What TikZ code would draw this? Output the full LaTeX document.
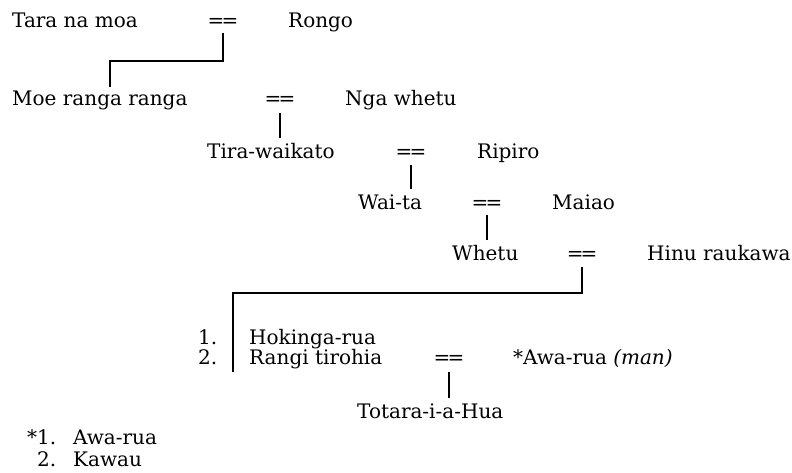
\documentclass[tikz,border=0pt]{standalone}
\usepackage{fontspec}
\setmainfont{DejaVu Serif}
\newcommand{\mareq}{=\kern-3pt=}
\begin{document}
\begin{tikzpicture}[x=1pt,y=-1pt,
  txt/.style={inner sep=0pt,anchor=base west,font=\fontsize{20}{21}\selectfont},
  eq/.style={inner sep=0pt,anchor=base,font=\fontsize{20}{21}\selectfont},
  link/.style={line width=1.8pt}]
\useasboundingbox (0,0) rectangle (792,473);
% row 1
\node[txt] (tara) at (12,28) {Tara na moa};
\node[eq] (e1) at (223,28) {\mareq};
\node[txt] (rongo) at (288,28) {Rongo};
% row 2
\node[txt] (moe) at (12,106) {Moe ranga ranga};
\node[eq] (e2) at (280,106) {\mareq};
\node[txt] (nga) at (345,106) {Nga whetu};
% row 3
\node[txt] (tira) at (207,159) {Tira-waikato};
\node[eq] (e3) at (411,159) {\mareq};
\node[txt] (ripiro) at (477,159) {Ripiro};
% row 4
\node[txt] (waita) at (358,209) {Wai-ta};
\node[eq] (e4) at (487,209) {\mareq};
\node[txt] (maiao) at (552,209) {Maiao};
% row 5
\node[txt] (whetu) at (452,260) {Whetu};
\node[eq] (e5) at (582,260) {\mareq};
\node[txt] (hinu) at (647,260) {Hinu raukawa};
% children
\node[txt] (n1) at (198,344) {1.};
\node[txt] (hok) at (249,344) {Hokinga-rua};
\node[txt] (n2) at (198,364) {2.};
\node[txt] (rangi) at (249,364) {Rangi tirohia};
\node[eq] (e6) at (449,364) {\mareq};
\node[txt] (awa) at (513,364) {*Awa-rua \textit{(man)}};
\node[txt] (totara) at (357,418) {Totara-i-a-Hua};
% footnote
\node[txt] (f1) at (27,444) {*1.};
\node[txt] (fa) at (73,444) {Awa-rua};
\node[txt] (f2) at (37,466) {2.};
\node[txt] (fk) at (73,466) {Kawau};
% connectors
\coordinate (k1) at (110,61);
\draw[link] ([yshift=-5pt]e1.south) |- (k1) -- ([yshift=4pt]moe.north -| k1);
\draw[link] ([yshift=-7pt]e2.south) -- ([yshift=6pt]tira.north -| e2.south);
\draw[link] ([yshift=-6pt]e3.south) -- ([yshift=5pt]waita.north -| e3.south);
\draw[link] ([yshift=-6pt]e4.south) -- ([yshift=5pt]whetu.north -| e4.south);
\coordinate (k2) at (233,293);
\coordinate (k3) at (233,372);
\draw[link] ([yshift=-7pt]e5.south) |- (k2) -- (k3);
\draw[link] ([yshift=-8pt]e6.south) -- ([yshift=5pt]totara.north -| e6.south);
\end{tikzpicture}
\end{document}
